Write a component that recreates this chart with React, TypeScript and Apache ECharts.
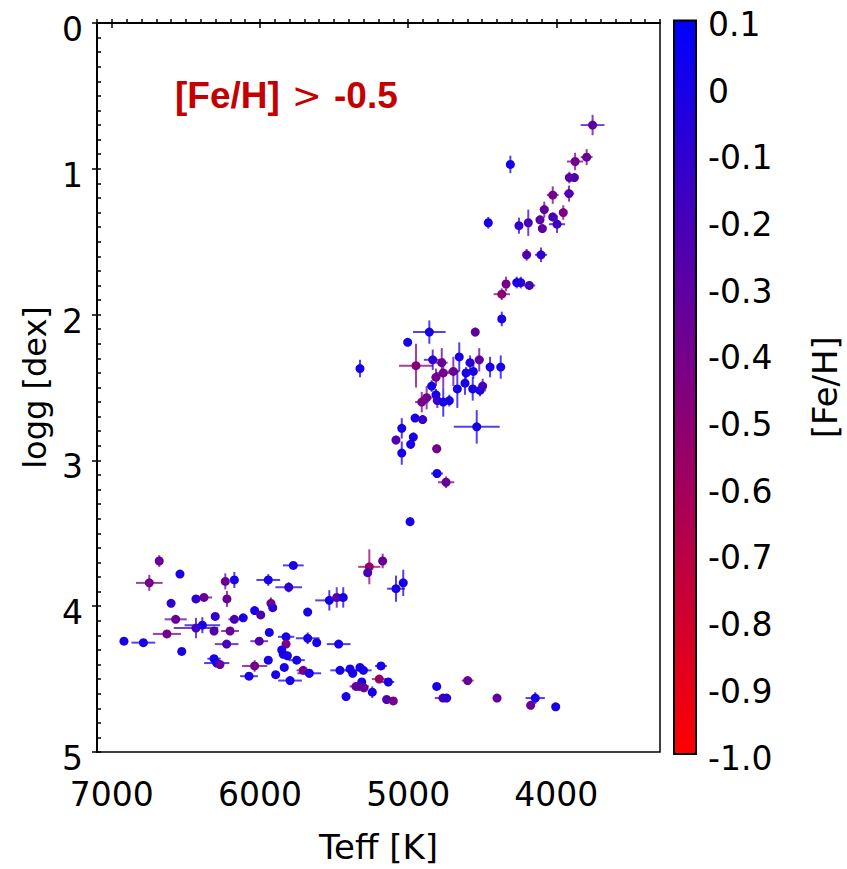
import React, { useEffect, useRef } from 'react';
import * as echarts from 'echarts';

// Effective temperature [K]
const teff = [
  3755, 4310, 3873, 3795, 3912, 3878, 3914, 4024, 3953, 4081, 4110, 4024, 3995, 4094, 4459, 4252, 4189, 4200, 4103, 4267,
  4240, 4182, 4339, 4368, 4368,
  4857, 5003, 4547, 4947, 4834, 4773, 4655, 4582, 4520, 4447, 4375, 4560, 4609, 4695, 4763, 4812, 4841, 4668, 4616, 4564,
  4515, 4497, 4812, 4875, 4908, 4803, 4763, 4722, 4953, 4902, 4537, 5043, 5082, 4965, 4983, 5043, 4807, 4805, 4744, 4987,
  5325,
  5262, 5172, 5273, 5082, 5033,
  6680, 6540, 6747, 6234, 6173, 6600, 6432, 6378, 6223, 6302, 6173, 6569, 6432, 6389, 6310, 6202, 6628, 6918, 6787, 6225,
  6528, 6310, 6292, 6270,
  5775, 5944, 5806, 5926, 5914, 6036, 5995, 6113, 5678, 5532, 5482, 5438, 5937, 6005, 5824, 5824, 5678, 5617, 5469, 5853,
  5843, 5815, 5752, 5944, 6036, 5836, 6074, 5894, 5708, 5667, 5797, 5460, 5392, 5374, 5352, 5419,
  5325, 5302, 5183, 5195, 5134, 5313, 5330, 5298, 5242, 5145, 5100, 4807, 4598, 4765, 4740, 4400, 4142, 4173, 4004,
];
// Surface gravity logg [dex]
const logg = [
  0.70, 0.97, 0.95, 0.92, 1.06, 1.06, 1.17, 1.18, 1.30, 1.28, 1.35, 1.33, 1.38, 1.41, 1.37, 1.39, 1.37, 1.59, 1.59, 1.78,
  1.78, 1.80, 1.79, 1.86, 2.03,
  2.12, 2.19, 2.12, 2.35, 2.31, 2.33, 2.29, 2.33, 2.31, 2.36, 2.36, 2.39, 2.40, 2.39, 2.40, 2.43, 2.49, 2.51, 2.47, 2.51,
  2.52, 2.49, 2.55, 2.57, 2.60, 2.59, 2.60, 2.59, 2.71, 2.72, 2.77, 2.78, 2.86, 2.84, 2.89, 2.95, 2.92, 3.09, 3.15, 3.42,
  2.37,
  3.73, 3.69, 3.77, 3.88, 3.84,
  3.69, 3.78, 3.84, 3.83, 3.82, 3.98, 3.95, 3.94, 3.95, 4.07, 4.09, 4.09, 4.15, 4.13, 4.17, 4.17, 4.19, 4.24, 4.25, 4.26,
  4.31, 4.36, 4.39, 4.40,
  3.72, 3.82, 3.87, 3.98, 4.01, 4.03, 4.06, 4.08, 4.04, 3.96, 3.94, 3.94, 4.18, 4.24, 4.21, 4.26, 4.22, 4.25, 4.26, 4.30,
  4.33, 4.34, 4.37, 4.37, 4.41, 4.42, 4.48, 4.47, 4.44, 4.46, 4.51, 4.44, 4.43, 4.46, 4.55, 4.62,
  4.42, 4.44, 4.41, 4.50, 4.52, 4.52, 4.55, 4.56, 4.59, 4.64, 4.65, 4.55, 4.51, 4.63, 4.63, 4.63, 4.63, 4.68, 4.69,
];
// Metallicity [Fe/H]
const feh = [
  -0.30, 0.00, -0.40, -0.35, -0.30, -0.25, -0.25, -0.40, -0.45, -0.30, -0.30, -0.20, -0.15, -0.30, 0.00, -0.10, -0.20, -0.25, -0.10, 0.00,
  -0.05, -0.20, -0.40, -0.50, 0.00,
  0.00, 0.00, -0.30, -0.50, -0.10, -0.35, 0.00, -0.05, -0.30, 0.00, 0.00, 0.00, 0.00, -0.35, -0.40, -0.40, 0.00, 0.00, 0.00, 0.00,
  0.00, -0.20, 0.00, -0.40, -0.40, -0.15, 0.00, 0.00, 0.00, -0.15, 0.00, 0.00, -0.25, 0.00, 0.00, 0.00, -0.40, 0.00, -0.35, 0.00,
  0.00,
  -0.55, -0.35, -0.20, 0.00, 0.00,
  -0.35, 0.00, -0.40, -0.35, 0.00, -0.10, -0.10, -0.35, -0.35, -0.10, -0.20, -0.35, -0.20, 0.00, -0.25, -0.35, -0.40, 0.00, 0.00, -0.20,
  0.00, 0.00, 0.00, -0.35,
  0.00, 0.00, -0.10, -0.40, -0.10, 0.00, -0.25, 0.00, 0.00, 0.00, -0.30, 0.00, 0.00, -0.25, 0.00, -0.45, 0.00, 0.00, 0.00, 0.00,
  0.00, 0.00, 0.00, 0.00, -0.40, 0.00, 0.00, 0.00, -0.40, 0.00, 0.00, 0.00, 0.00, 0.00, -0.35, 0.00,
  0.00, 0.00, 0.00, -0.55, 0.00, 0.00, -0.30, -0.35, 0.00, -0.25, -0.40, 0.00, -0.35, -0.20, -0.10, -0.30, 0.00, -0.35, 0.00,
];
// Teff uncertainty [K]
const eTeff = [
  80, 20, 55, 40, 20, 20, 35, 40, 15, 15, 15, 20, 55, 15, 15, 20, 20, 15, 40, 15,
  15, 40, 15, 55, 15,
  110, 0, 15, 115, 60, 40, 20, 30, 30, 15, 15, 20, 20, 40, 50, 30, 20, 25, 20, 20,
  40, 20, 20, 40, 45, 30, 20, 20, 0, 15, 155, 15, 15, 25, 20, 15, 30, 40, 55, 15,
  0,
  75, 10, 10, 60, 10,
  15, 0, 90, 15, 15, 0, 10, 55, 10, 0, 40, 75, 150, 120, 0, 60, 95, 0, 80, 80,
  0, 45, 85, 0,
  70, 80, 90, 10, 20, 0, 20, 0, 0, 95, 10, 10, 0, 60, 55, 20, 80, 0, 80, 0,
  0, 20, 55, 0, 85, 0, 60, 0, 45, 80, 80, 65, 0, 0, 0, 0,
  0, 55, 40, 50, 40, 0, 65, 0, 10, 0, 0, 0, 40, 55, 0, 0, 65, 0, 0,
];
// logg uncertainty [dex]
const eLogg = [
  0.07, 0.06, 0.06, 0.055, 0.04, 0.03, 0.055, 0.06, 0.05, 0.055, 0.03, 0.03, 0.06, 0.03, 0.04, 0.055, 0.09, 0.04, 0.05, 0.04,
  0.04, 0.03, 0.05, 0.04, 0.05,
  0.08, 0, 0.03, 0.15, 0.07, 0.1, 0.1, 0.05, 0.08, 0.07, 0.08, 0.05, 0.04, 0.1, 0.1, 0.06, 0.04, 0.13, 0.08, 0.08,
  0.04, 0.05, 0.04, 0.08, 0.07, 0.05, 0.1, 0.04, 0, 0.03, 0.115, 0.07, 0.03, 0.03, 0.03, 0.08, 0.03, 0.03, 0.04, 0.03,
  0.06,
  0.12, 0.05, 0.03, 0.09, 0.09,
  0.04, 0, 0.055, 0.055, 0.055, 0, 0.02, 0.02, 0.055, 0, 0.02, 0.02, 0.07, 0.055, 0, 0.02, 0.02, 0, 0.02, 0.02,
  0, 0.02, 0.02, 0,
  0.02, 0.04, 0.035, 0.04, 0.02, 0, 0.02, 0, 0, 0.07, 0.07, 0.07, 0, 0.02, 0.02, 0.02, 0.04, 0, 0.02, 0,
  0, 0.02, 0.02, 0, 0.04, 0, 0.02, 0, 0.02, 0.03, 0.02, 0.02, 0, 0, 0, 0,
  0, 0.02, 0.02, 0.02, 0.02, 0, 0.02, 0, 0.04, 0, 0, 0, 0.02, 0.02, 0, 0, 0.04, 0, 0,
];

const xMajorTicks = [4000, 5000, 6000, 7000];
const CB_MIN = -1.0;
const CB_MAX = 0.1;
const TITLE_LEFT = '[Fe/H]';
const TITLE_RIGHT = '-0.5';

export default function App() {
  const ref = useRef<HTMLDivElement>(null);
  useEffect(() => {
    const chart = echarts.init(ref.current!, null, { renderer: 'svg' });
    const pts = teff.map((t, i) => [t, logg[i], feh[i], eTeff[i], eLogg[i]]);
    const FONT = 'DejaVu Sans';
    const tickLabel = { fontFamily: FONT, fontSize: 33, color: '#000' };
    const option: any = {
      animation: false,
      backgroundColor: '#fff',
      title: {
        text: `{a|${TITLE_LEFT}} {b|>} {a|${TITLE_RIGHT}}`,
        left: 170,
        top: 72,
        textStyle: {
          rich: {
            a: { fontFamily: 'Liberation Sans', fontWeight: 'bold', fontSize: 37, color: '#c40000' },
            b: { fontFamily: 'DejaVu Sans', fontWeight: 'normal', fontSize: 36, color: '#c40000', padding: [0, 7, 0, 7] },
          },
        },
      },
      grid: [
        { left: 97, top: 17, width: 563, height: 736, show: true, borderColor: '#000', borderWidth: 1.5, backgroundColor: 'transparent' },
        { left: 674, top: 18, width: 22, height: 736 },
      ],
      xAxis: [
        {
          gridIndex: 0, type: 'value', min: 3300, max: 7100, interval: 100, inverse: true,
          name: 'Teff [K]', nameLocation: 'middle', nameGap: 78,
          nameTextStyle: { fontFamily: FONT, fontSize: 34, color: '#000' },
          axisLine: { show: true, lineStyle: { color: '#000', width: 2 } },
          axisTick: { show: true, inside: true, length: 4, lineStyle: { color: '#000', width: 1.5 } },
          axisLabel: {
            ...tickLabel, margin: 26,
            formatter: (v: number) => (Math.round(v) % 1000 === 0 ? String(Math.round(v)) : ''),
          },
          splitLine: { show: false },
        },
        {
          gridIndex: 0, type: 'value', min: 3300, max: 7100, inverse: true, splitNumber: 4, position: 'bottom',
          axisLine: { show: false },
          axisTick: { show: true, inside: false, length: 5, customValues: xMajorTicks, lineStyle: { color: '#000', width: 1.5 } },
          axisLabel: { show: false },
          splitLine: { show: false },
        },
        { gridIndex: 1, type: 'value', min: 0, max: 1, show: false },
      ],
      yAxis: [
        {
          gridIndex: 0, type: 'value', min: 0, max: 5, interval: 0.1, inverse: true,
          name: 'logg [dex]', nameLocation: 'middle', nameGap: 46, nameRotate: 90,
          nameTextStyle: { fontFamily: FONT, fontSize: 32, color: '#000' },
          axisLine: { show: true, lineStyle: { color: '#000', width: 2 } },
          axisTick: { show: true, inside: true, length: 4, lineStyle: { color: '#000', width: 1.5 } },
          axisLabel: {
            ...tickLabel, margin: 14, lineHeight: 13,
            formatter: (v: number) => (Math.abs(v - Math.round(v)) < 1e-6 ? '\n' + String(Math.round(v)) : ''),
          },
          splitLine: { show: false },
        },
        {
          gridIndex: 0, type: 'value', min: 0, max: 5, interval: 1, inverse: true, position: 'left',
          axisLine: { show: false },
          axisTick: { show: true, inside: false, length: 5, lineStyle: { color: '#000', width: 1.5 } },
          axisLabel: { show: false },
          splitLine: { show: false },
        },
        {
          gridIndex: 1, type: 'value', min: CB_MIN, max: CB_MAX, interval: 0.1, position: 'right',
          name: '[Fe/H]', nameLocation: 'middle', nameGap: 112, nameRotate: 90,
          nameTextStyle: { fontFamily: FONT, fontSize: 34, color: '#000' },
          axisLine: { show: false },
          axisTick: { show: true, inside: false, length: 5, lineStyle: { color: '#000', width: 1.5 } },
          axisLabel: {
            ...tickLabel, margin: 12, lineHeight: 8,
            formatter: (v: number) => {
              const r = Math.round(v * 10) / 10;
              if (Math.abs(r) < 1e-9) return '\n0';
              return '\n' + r.toFixed(1);
            },
          },
          splitLine: { show: false },
        },
      ],
      visualMap: {
        type: 'continuous', show: false, min: CB_MIN, max: CB_MAX, dimension: 2, seriesIndex: [0, 1],
        inRange: { color: ['#ff0000', '#0000ff'] },
      },
      series: [
        {
          type: 'custom', xAxisIndex: 0, yAxisIndex: 0, data: pts, encode: { x: 0, y: 1 }, z: 2,
          renderItem: (params: any, api: any) => {
            const t = api.value(0), g = api.value(1), et = api.value(3), eg = api.value(4);
            const color = api.visual('color');
            const children: any[] = [];
            if (et > 0) {
              const a = api.coord([t - et, g]);
              const b = api.coord([t + et, g]);
              children.push({ type: 'line', shape: { x1: a[0], y1: a[1], x2: b[0], y2: b[1] }, style: { stroke: color, lineWidth: 2, opacity: 0.75 } });
            }
            if (eg > 0) {
              const a = api.coord([t, g - eg]);
              const b = api.coord([t, g + eg]);
              children.push({ type: 'line', shape: { x1: a[0], y1: a[1], x2: b[0], y2: b[1] }, style: { stroke: color, lineWidth: 2, opacity: 0.75 } });
            }
            return { type: 'group', children };
          },
        },
        {
          type: 'scatter', xAxisIndex: 0, yAxisIndex: 0, data: pts, encode: { x: 0, y: 1 }, z: 3,
          symbol: 'circle', symbolSize: 9, itemStyle: { opacity: 1 },
        },
        {
          type: 'custom', xAxisIndex: 2, yAxisIndex: 2, data: [[0, CB_MAX]], z: 2,
          renderItem: (params: any, api: any) => {
            const p1 = api.coord([0, CB_MAX]);
            const p2 = api.coord([1, CB_MIN]);
            return {
              type: 'rect',
              shape: { x: p1[0], y: p1[1], width: p2[0] - p1[0], height: p2[1] - p1[1] },
              style: {
                fill: new echarts.graphic.LinearGradient(0, 0, 0, 1, [
                  { offset: 0, color: '#0000ff' },
                  { offset: 1, color: '#ff0000' },
                ]),
                stroke: '#000',
                lineWidth: 2,
              },
            };
          },
        },
      ],
    };
    chart.setOption(option);
    return () => chart.dispose();
  }, []);
  return <div ref={ref} style={{ position: 'absolute', left: 0, top: 0, width: 847, height: 869 }} />;
}
